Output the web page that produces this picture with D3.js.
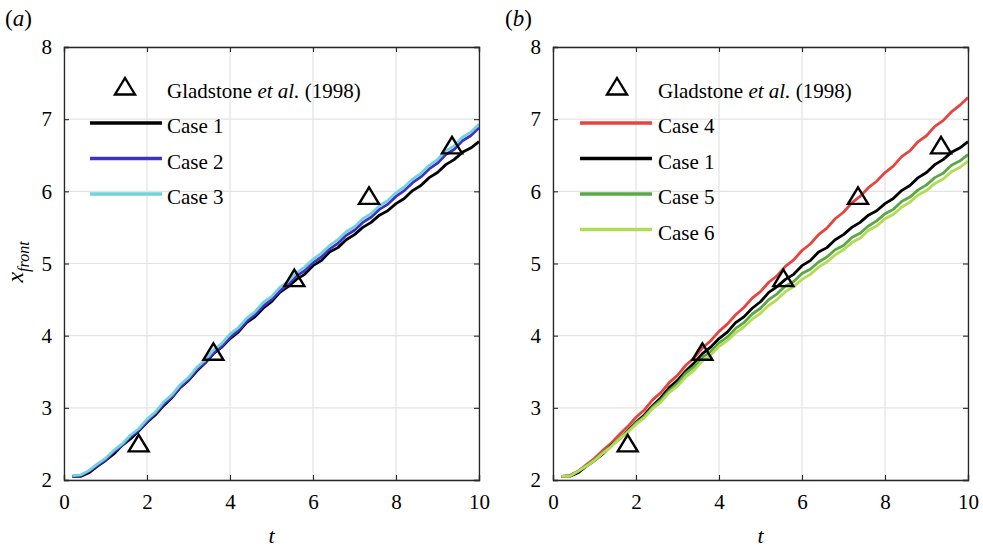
<!DOCTYPE html>
<html><head><meta charset="utf-8">
<script src="https://cdn.jsdelivr.net/npm/d3@7"></script>
<style>
html,body{margin:0;padding:0;background:#fff;}
svg{display:block;font-family:"Liberation Serif","Times New Roman",serif;}
</style></head>
<body>
<svg id="chart" width="983" height="547"></svg>
<script>
// ---- data ----
const tVals = [0.2,0.4,0.6,0.8,1.0,1.2,1.4,1.6,1.8,2.0,2.2,2.4,2.6,2.8,3.0,3.2,3.4,3.6,3.8,4.0,4.2,4.4,4.6,4.8,5.0,5.2,5.4,5.6,5.8,6.0,6.2,6.4,6.6,6.8,7.0,7.2,7.4,7.6,7.8,8.0,8.2,8.4,8.6,8.8,9.0,9.2,9.4,9.6,9.8,10.0];
const case1 = [2.05,2.05,2.10,2.19,2.27,2.36,2.48,2.57,2.68,2.80,2.90,3.03,3.14,3.28,3.38,3.51,3.62,3.75,3.84,3.96,4.05,4.18,4.26,4.38,4.47,4.60,4.68,4.78,4.85,4.97,5.04,5.16,5.22,5.33,5.40,5.50,5.57,5.67,5.73,5.83,5.90,6.01,6.08,6.19,6.26,6.37,6.44,6.54,6.60,6.69];
const case2 = [2.05,2.06,2.12,2.20,2.28,2.39,2.48,2.60,2.69,2.81,2.92,3.05,3.15,3.29,3.39,3.53,3.63,3.76,3.85,3.98,4.07,4.20,4.29,4.41,4.50,4.62,4.71,4.83,4.90,5.01,5.09,5.20,5.28,5.39,5.46,5.57,5.64,5.75,5.82,5.93,6.01,6.12,6.20,6.31,6.39,6.51,6.58,6.70,6.77,6.88];
const case3 = [2.06,2.07,2.13,2.22,2.30,2.41,2.50,2.62,2.71,2.84,2.94,3.08,3.18,3.32,3.42,3.56,3.66,3.80,3.89,4.02,4.11,4.24,4.33,4.46,4.54,4.67,4.75,4.87,4.95,5.06,5.14,5.25,5.33,5.44,5.51,5.62,5.69,5.80,5.87,5.98,6.06,6.17,6.25,6.36,6.44,6.56,6.63,6.75,6.82,6.93];
const case4 = [2.05,2.06,2.12,2.21,2.30,2.41,2.51,2.63,2.74,2.87,2.97,3.11,3.21,3.35,3.45,3.59,3.69,3.83,3.93,4.06,4.16,4.29,4.39,4.52,4.61,4.74,4.83,4.96,5.05,5.18,5.27,5.40,5.49,5.62,5.71,5.84,5.93,6.05,6.14,6.26,6.35,6.48,6.56,6.69,6.77,6.90,6.98,7.10,7.19,7.30];
const case5 = [2.05,2.06,2.12,2.20,2.28,2.38,2.47,2.58,2.67,2.79,2.88,3.01,3.11,3.24,3.34,3.48,3.57,3.70,3.78,3.90,3.98,4.10,4.18,4.30,4.38,4.50,4.58,4.69,4.75,4.86,4.92,5.02,5.09,5.19,5.25,5.36,5.42,5.52,5.59,5.69,5.75,5.86,5.92,6.02,6.09,6.19,6.25,6.36,6.42,6.51];
const case6 = [2.05,2.05,2.12,2.19,2.27,2.37,2.46,2.57,2.66,2.77,2.86,2.99,3.08,3.21,3.30,3.43,3.52,3.65,3.73,3.85,3.93,4.04,4.12,4.23,4.31,4.42,4.50,4.61,4.68,4.78,4.85,4.95,5.02,5.12,5.19,5.29,5.35,5.46,5.52,5.62,5.68,5.78,5.85,5.95,6.01,6.11,6.17,6.27,6.33,6.42];
const gladT = [1.8,3.6,5.55,7.35,9.35];
const gladX = [2.5,3.77,4.79,5.93,6.63];
const xTicks = [0,2,4,6,8,10];
const yTicks = [2,3,4,5,6,7,8];
const gladLabel = ["Gladstone ", "et al.", " (1998)"];

const panels = [
  {tag:"a", left:64, series:[
    {name:"Case 1", vals:case1, color:"#000000"},
    {name:"Case 2", vals:case2, color:"#3f30c8"},
    {name:"Case 3", vals:case3, color:"#72d3da"}],
   legX:90, triX:125, textX:167, showYLabel:true},
  {tag:"b", left:553, series:[
    {name:"Case 4", vals:case4, color:"#e8443f"},
    {name:"Case 1", vals:case1, color:"#000000"},
    {name:"Case 5", vals:case5, color:"#5aa845"},
    {name:"Case 6", vals:case6, color:"#b3dc55"}],
   legX:580, triX:617, textX:658, showYLabel:false}
];

const svg = d3.select("#chart");
const W = 415, plotTop = 47, plotBottom = 480;
const axisCol = "#262626", gridCol = "#e3e3e3";
const triPath = "M0,-9 L10,7.5 L-10,7.5 Z";

panels.forEach(p => {
  const x = d3.scaleLinear().domain([0,10]).range([p.left, p.left+W]);
  const y = d3.scaleLinear().domain([2,8]).range([plotBottom, plotTop]);
  const g = svg.append("g");

  // grid
  g.selectAll(".gx").data(xTicks).join("line")
    .attr("x1", d=>x(d)).attr("x2", d=>x(d)).attr("y1", plotTop).attr("y2", plotBottom)
    .attr("stroke", gridCol).attr("stroke-width", 1.2);
  g.selectAll(".gy").data(yTicks).join("line")
    .attr("y1", d=>y(d)).attr("y2", d=>y(d)).attr("x1", p.left).attr("x2", p.left+W)
    .attr("stroke", gridCol).attr("stroke-width", 1.2);

  // lines
  const line = d3.line().x((d,i)=>x(tVals[i])).y(d=>y(d));
  p.series.forEach(s => {
    g.append("path").attr("d", line(s.vals)).attr("fill","none")
      .attr("stroke", s.color).attr("stroke-width", 2.8).attr("stroke-linejoin","round");
  });

  // Gladstone markers
  g.selectAll(".tri").data(gladT).join("path")
    .attr("d", triPath)
    .attr("transform", (d,i)=>`translate(${x(d)},${y(gladX[i])})`)
    .attr("fill","none").attr("stroke","#000").attr("stroke-width",2.4);

  // axes box + ticks
  const axB = d3.axisBottom(x).tickValues(xTicks).tickSize(-5).tickPadding(14).tickFormat(d3.format("d"));
  const axT = d3.axisTop(x).tickValues(xTicks).tickSize(-5).tickFormat("");
  const axL = d3.axisLeft(y).tickValues(yTicks).tickSize(-5).tickPadding(12).tickFormat(d3.format("d"));
  const axR = d3.axisRight(y).tickValues(yTicks).tickSize(-5).tickFormat("");
  [[axB,`translate(0,${plotBottom})`],[axT,`translate(0,${plotTop})`],[axL,`translate(${p.left},0)`],[axR,`translate(${p.left+W},0)`]]
  .forEach(([ax,tr]) => {
    const a = g.append("g").attr("transform", tr).call(ax);
    a.select(".domain").attr("stroke", axisCol).attr("stroke-width",1.3);
    a.selectAll(".tick line").attr("stroke", axisCol).attr("stroke-width",1.1);
    a.selectAll("text").attr("fill","#000").attr("font-size",21)
      .attr("font-family",'"Liberation Serif","Times New Roman",serif');
  });

  // axis labels
  g.append("text").attr("x", p.left + W/2).attr("y", 543).attr("text-anchor","middle")
    .attr("font-size",22).attr("font-style","italic").text("t");
  if (p.showYLabel) {
    const yl = g.append("text").attr("transform","translate(23,262) rotate(-90)")
      .attr("text-anchor","middle").attr("font-style","italic");
    yl.append("tspan").attr("font-size",24).text("x");
    yl.append("tspan").attr("font-size",16).attr("dy",6).text("front");
  }

  // panel tag
  const tagX = p.tag === "a" ? 5 : 505;
  const tg = g.append("text").attr("x", tagX).attr("y", 26).attr("font-size",23);
  tg.append("tspan").text("(");
  tg.append("tspan").attr("font-style","italic").text(p.tag);
  tg.append("tspan").text(")");

  // legend
  g.append("path").attr("d", triPath).attr("transform", `translate(${p.triX},87)`)
    .attr("fill","none").attr("stroke","#000").attr("stroke-width",2.4);
  const gt = g.append("text").attr("x", p.textX).attr("y", 98).attr("font-size",21);
  gt.append("tspan").text(gladLabel[0]);
  gt.append("tspan").attr("font-style","italic").text(gladLabel[1]);
  gt.append("tspan").text(gladLabel[2]);
  p.series.forEach((s,i) => {
    const ly = 123 + i*35.5;
    g.append("line").attr("x1", p.legX).attr("x2", p.legX+72).attr("y1", ly).attr("y2", ly)
      .attr("stroke", s.color).attr("stroke-width", 3.5);
    g.append("text").attr("x", p.textX).attr("y", ly+10).attr("font-size",21).text(s.name);
  });
});
</script>
</body></html>
